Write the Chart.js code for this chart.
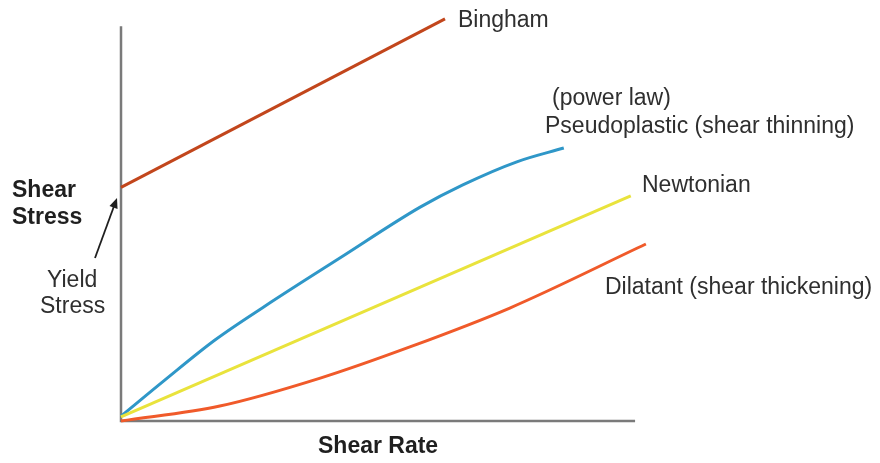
<!DOCTYPE html>
<html>
<head>
<meta charset="utf-8">
<script src="https://cdn.jsdelivr.net/npm/chart.js@4/dist/chart.umd.min.js"></script>
<style>
  body { margin: 0; background: #fff; }
  canvas { display: block; }
</style>
</head>
<body>
<canvas id="chart" width="880" height="463"></canvas>
<script>
// Shear rate (x) vs shear stress (y), arbitrary units 0..10
const binghamX = [0, 6.0];
const binghamY = [5.77, 9.93];

const pseudoX = [0, 0.81, 1.74, 2.67, 4.06, 5.54, 6.33, 7.33, 8.2];
const pseudoY = [0.12, 1.01, 2.0, 2.84, 4.03, 5.28, 5.83, 6.40, 6.74];

const newtonX = [0, 9.44];
const newtonY = [0.1, 5.56];

const dilatantX = [0, 1.83, 3.69, 5.35, 7.20, 9.72];
const dilatantY = [0, 0.37, 1.06, 1.83, 2.79, 4.37];

// drawn axis extents
const axisXMax = 9.52;
const axisYMax = 9.75;

function toPoints(xs, ys) {
    return xs.map((x, i) => ({ x: x, y: ys[i] }));
}

function lineSet(label, xs, ys, color, curved) {
    return {
        label: label,
        data: toPoints(xs, ys),
        borderColor: color,
        borderWidth: 3,
        pointRadius: 0,
        fill: false,
        clip: false,
        cubicInterpolationMode: curved ? 'monotone' : 'default'
    };
}

// Achsen, Beschriftungen und Pfeil
const annotations = {
    id: 'annotations',
    beforeDatasetsDraw(chart) {
        const ctx = chart.ctx;
        const xs = chart.scales.x, ys = chart.scales.y;
        const x0 = xs.getPixelForValue(0), y0 = ys.getPixelForValue(0);
        ctx.save();
        ctx.strokeStyle = '#7a7a7a';
        ctx.lineWidth = 2.5;
        ctx.beginPath();
        ctx.moveTo(x0, ys.getPixelForValue(axisYMax));
        ctx.lineTo(x0, y0);
        ctx.lineTo(xs.getPixelForValue(axisXMax), y0);
        ctx.stroke();
        ctx.restore();
    },
    afterDatasetsDraw(chart) {
        const ctx = chart.ctx;
        ctx.save();
        ctx.fillStyle = '#2f2f2f';
        ctx.textBaseline = 'alphabetic';
        ctx.font = '23px "Liberation Sans", Arial, sans-serif';
        ctx.fillText('Bingham', 458, 27);
        ctx.fillText('(power law)', 552, 105);
        ctx.fillText('Pseudoplastic (shear thinning)', 545, 133);
        ctx.fillText('Newtonian', 642, 192);
        ctx.fillText('Dilatant (shear thickening)', 605, 294);
        ctx.fillText('Yield', 47, 287);
        ctx.fillText('Stress', 40, 313);

        ctx.fillStyle = '#1f1f1f';
        ctx.font = 'bold 23px "Liberation Sans", Arial, sans-serif';
        ctx.fillText('Shear', 12, 197);
        ctx.fillText('Stress', 12, 224);
        ctx.fillText('Shear Rate', 318, 453);

        // Pfeil zur Fließgrenze
        const fx = 95, fy = 258, tx = 117, ty = 198;
        const ang = Math.atan2(ty - fy, tx - fx);
        ctx.strokeStyle = '#1f1f1f';
        ctx.lineWidth = 1.8;
        ctx.beginPath();
        ctx.moveTo(fx, fy);
        ctx.lineTo(tx - 8 * Math.cos(ang), ty - 8 * Math.sin(ang));
        ctx.stroke();
        ctx.beginPath();
        ctx.moveTo(tx, ty);
        ctx.lineTo(tx - 11 * Math.cos(ang - 0.4), ty - 11 * Math.sin(ang - 0.4));
        ctx.lineTo(tx - 11 * Math.cos(ang + 0.4), ty - 11 * Math.sin(ang + 0.4));
        ctx.closePath();
        ctx.fill();
        ctx.restore();
    }
};

new Chart(document.getElementById('chart').getContext('2d'), {
    type: 'line',
    data: {
        datasets: [
            lineSet('Dilatant', dilatantX, dilatantY, '#f05a2a', true),
            lineSet('Newtonian', newtonX, newtonY, '#e9e33c', false),
            lineSet('Pseudoplastic', pseudoX, pseudoY, '#2f97c8', true),
            lineSet('Bingham', binghamX, binghamY, '#c2461c', false)
        ]
    },
    options: {
        responsive: false,
        animation: false,
        layout: { padding: { left: 121, right: 219, top: 16, bottom: 42 } },
        plugins: { legend: { display: false }, tooltip: { enabled: false } },
        scales: {
            x: { type: 'linear', min: 0, max: 10, display: false },
            y: { type: 'linear', min: 0, max: 10, display: false }
        }
    },
    plugins: [annotations]
});
</script>
</body>
</html>
